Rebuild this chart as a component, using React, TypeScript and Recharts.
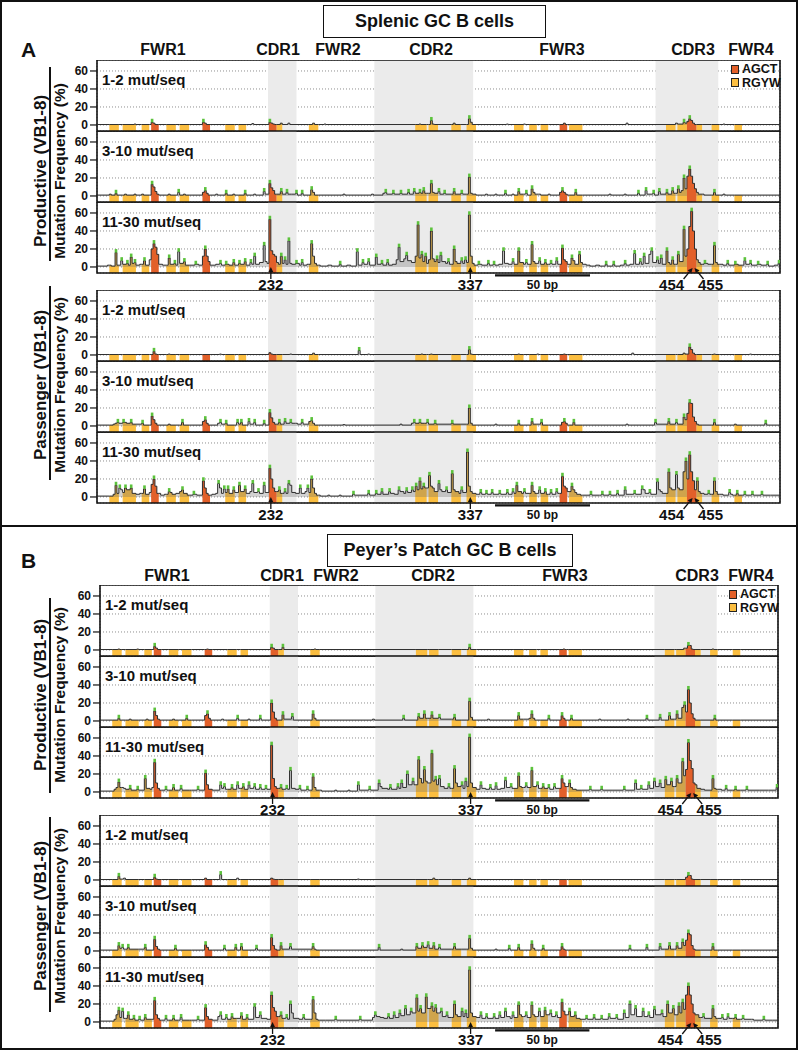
import React from 'react';
import {
  ComposedChart, Area, Line, Scatter, XAxis, YAxis, CartesianGrid,
  ReferenceArea, ReferenceLine, ReferenceDot,
} from 'recharts';

type Pt = [number, number];

const FONT = '"Liberation Sans", Arial, Helvetica, sans-serif';

// ---------- axes / categories ----------
const X_DOMAIN: [number, number] = [140.5, 500];
const Y_DOMAIN: [number, number] = [-6.7, 72.2];
const GRID_BP = [150, 200, 250, 300, 350, 400, 450, 500];
const Y_TICKS = [0, 20, 40, 60];
const CDR_RANGES: [number, number][] = [[230.5, 245.5], [286.5, 338.5], [434.5, 467.5]];
const REGION_NAMES = ['FWR1', 'CDR1', 'FWR2', 'CDR2', 'FWR3', 'CDR3', 'FWR4'];
const PANEL_NAMES = ['1-2 mut/seq', '3-10 mut/seq', '11-30 mut/seq'];
const GROUP_NAMES = ['Productive (VB1-8)', 'Passenger (VB1-8)'];
const AXIS_TITLE = 'Mutation Frequency (%)';
const LEGEND_NAMES: ('AGCT' | 'RGYW')[] = ['AGCT', 'RGYW'];
const SITE_LABELS: { bp: number; text: string; side: 'c' | 'l' | 'r' | 'bar' }[] = [
  { bp: 232, text: '232', side: 'c' },
  { bp: 337, text: '337', side: 'c' },
  { bp: 454, text: '454', side: 'l' },
  { bp: 455, text: '455', side: 'r' },
  { bp: 375, text: '50 bp', side: 'bar' },
];
const SCALE_BAR_BP: [number, number] = [350, 400];

// hotspot motifs [start bp, end bp, motif]
const MOTIFS: [number, number, 'AGCT' | 'RGYW'][] = [
  [147, 152, 'RGYW'], [154, 161, 'RGYW'], [164, 168, 'RGYW'], [169, 173, 'AGCT'],
  [177, 182, 'RGYW'], [184, 189, 'RGYW'], [196, 200, 'AGCT'], [208, 213, 'RGYW'],
  [215, 219, 'RGYW'], [231, 235, 'AGCT'], [235, 238, 'RGYW'], [252, 257, 'RGYW'],
  [308, 314, 'RGYW'], [315, 320, 'RGYW'], [327, 332, 'RGYW'], [335, 340, 'RGYW'],
  [360, 365, 'RGYW'], [368, 372, 'RGYW'], [374, 378, 'RGYW'], [384, 388, 'AGCT'],
  [389, 396, 'RGYW'], [440, 445, 'RGYW'], [446, 451, 'RGYW'], [451, 456, 'AGCT'],
  [456, 459, 'RGYW'], [464, 468, 'RGYW'], [476, 480, 'RGYW'],
];

// ---------- mutation frequency (%) step series: [bp, value] ----------
const A_PROD_LOW: Pt[] = [[141,0.5],[160,1],[161,0.5],[169,3],[170,2],[171,0.5],[196,3],[197,2],[198,0.5],[222,1.5],[223,0.5],[231,3],[232,2],[233,1],[234,0.5],[237,2],[238,0.5],[241,2],[242,0.5],[254,2],[255,0.5],[260,1],[261,0.5],[310,1],[311,0.5],[316,5],[317,1],[318,0.5],[328,2],[329,0.5],[336,7],[337,3],[338,0.5],[356,1],[357,0.5],[365,1],[366,0.5],[386,2],[387,0.5],[419,2],[420,0.5],[445,2],[446,1],[449,3],[450,2],[451,4],[452,7],[453,5],[454,2],[455,0.5],[470,1],[471,0.5],[500,0.5]];

const A_PROD_MID: Pt[] = [[141,1],[147,2],[148,1],[150,3],[151,1],[155,2],[156,1],[160,2],[161,1],[164,2],[165,1],[169,13],[170,10],[171,5],[172,2],[173,1],[178,2],[179,1],[183,4],[184,1],[186,2],[187,1],[196,4],[197,6],[198,3],[199,1],[203,2],[204,1],[208,3],[209,1],[212,2],[213,1],[218,3],[219,1],[223,2],[224,1],[228,5],[229,2],[231,14],[232,9],[233,6],[234,2],[237,5],[238,2],[240,4],[241,2],[243,2],[245,3],[246,1],[248,3],[249,1],[253,7],[254,4],[255,1],[270,2],[271,1],[285,2],[286,1],[291,3],[292,4],[293,2],[296,3],[297,2],[300,3],[301,2],[304,4],[305,2],[307,5],[308,3],[310,4],[311,3],[312,6],[313,3],[316,14],[317,4],[318,3],[320,5],[321,2],[323,3],[324,2],[328,5],[329,2],[332,3],[333,2],[336,21],[337,3],[338,2],[340,1],[345,2],[346,1],[350,2],[351,1],[355,3],[356,1],[359,2],[360,1],[362,5],[363,2],[366,3],[367,1],[369,8],[370,4],[371,2],[373,2],[374,1],[378,2],[379,1],[384,4],[385,6],[386,4],[387,2],[388,1],[392,4],[393,1],[410,2],[411,1],[418,2],[419,1],[425,3],[426,1],[429,6],[430,2],[433,3],[434,1],[436,5],[437,2],[440,4],[441,2],[443,6],[444,3],[446,8],[447,4],[448,6],[449,20],[450,8],[451,22],[452,30],[453,22],[454,14],[455,8],[456,4],[457,2],[460,1],[465,4],[466,1],[470,2],[471,1],[500,1]];

const A_PROD_HIGH: Pt[] = [[141,1],[146,2],[148,1],[150,16],[151,2],[153,7],[154,3],[156,4],[157,2],[158,11],[159,4],[160,5],[161,2],[163,3],[165,7],[166,2],[168,8],[169,20],[170,26],[171,22],[172,14],[173,3],[175,2],[178,10],[179,3],[181,4],[182,2],[183,17],[184,4],[186,6],[187,2],[190,2],[192,3],[194,2],[196,12],[197,20],[198,12],[199,6],[200,2],[203,3],[205,4],[206,2],[208,3],[210,2],[212,5],[213,2],[215,4],[216,3],[218,6],[219,2],[221,5],[222,3],[223,12],[224,3],[226,5],[228,24],[229,6],[230,4],[231,53],[232,18],[233,14],[234,12],[235,5],[236,3],[237,12],[238,4],[239,8],[240,3],[241,29],[242,4],[243,3],[245,4],[247,2],[248,5],[249,2],[251,3],[253,26],[254,12],[255,4],[256,2],[258,1],[262,2],[264,1],[268,3],[269,1],[272,2],[274,1],[277,17],[278,2],[280,5],[281,3],[283,6],[284,2],[287,11],[288,3],[290,4],[291,2],[293,5],[294,2],[296,3],[298,8],[299,22],[300,6],[302,9],[303,13],[304,7],[306,5],[308,12],[309,47],[310,10],[311,14],[312,6],[313,12],[314,4],[315,8],[316,40],[317,9],[318,6],[319,9],[320,5],[321,13],[322,6],[324,4],[325,6],[326,3],[328,20],[329,6],[330,4],[332,7],[333,4],[334,8],[335,5],[336,58],[337,12],[338,4],[339,2],[341,3],[343,2],[346,4],[347,2],[349,3],[350,2],[352,3],[354,18],[355,4],[357,3],[359,6],[360,3],[362,18],[363,5],[365,3],[366,5],[367,3],[369,25],[370,6],[371,4],[373,7],[374,3],[376,5],[377,3],[379,4],[380,3],[382,7],[383,3],[385,21],[386,8],[387,6],[388,3],[390,10],[391,7],[392,3],[394,14],[395,5],[396,3],[398,2],[400,1],[403,2],[405,1],[408,3],[409,1],[412,3],[413,1],[416,2],[418,4],[419,2],[421,3],[423,15],[424,3],[426,6],[427,3],[428,12],[429,4],[431,14],[432,18],[433,5],[435,8],[436,4],[437,10],[438,3],[440,18],[441,5],[442,3],[443,8],[444,3],[446,14],[447,6],[449,42],[450,12],[451,20],[452,45],[453,62],[454,40],[455,20],[456,8],[457,5],[458,3],[460,4],[462,3],[465,24],[466,5],[467,3],[470,2],[472,4],[473,2],[476,3],[478,2],[481,7],[482,3],[484,4],[485,2],[488,3],[490,2],[493,3],[494,1],[497,2],[499,4],[500,4]];

const A_PASS_LOW: Pt[] = [[141,0.5],[170,4],[171,1],[172,0.5],[178,1],[179,0.5],[205,1],[206,0.5],[231,2.5],[232,1],[233,0.5],[242,1],[243,0.5],[254,2],[255,0.5],[278,5],[279,0.5],[283,1],[284,0.5],[311,1],[312,0.5],[316,1],[317,0.5],[336,6],[337,1],[338,0.5],[362,1],[363,0.5],[372,1],[373,0.5],[386,1],[387,0.5],[422,2],[423,0.5],[449,2],[450,1],[452,9],[453,6],[454,2],[455,0.5],[465,1],[466,0.5],[484,1],[485,0.5],[500,0.5]];

const A_PASS_MID: Pt[] = [[141,1],[149,2],[150,3],[151,4],[152,3],[154,4],[156,3],[158,4],[159,2],[164,3],[165,1],[169,11],[170,7],[171,3],[172,1],[178,2],[179,1],[185,4],[186,1],[196,5],[197,7],[198,3],[199,1],[204,3],[205,4],[206,2],[208,3],[209,1],[214,4],[215,2],[216,4],[217,1],[220,5],[221,2],[223,4],[224,1],[228,3],[229,1],[231,15],[232,9],[233,4],[234,2],[236,4],[237,2],[239,5],[240,3],[242,4],[243,3],[245,3],[246,2],[248,4],[249,2],[252,5],[253,6],[254,3],[255,1],[270,1.5],[271,1],[300,2],[301,1],[306,3],[307,4],[308,3],[310,4],[311,3],[313,3],[314,4],[315,2],[318,3],[319,2],[327,3],[328,2],[336,20],[337,3],[338,1],[350,2],[351,1],[362,3],[363,1],[369,5],[370,2],[374,4],[375,1],[385,4],[386,5],[387,3],[388,1],[391,4],[392,1],[419,2],[420,1],[434,4],[435,2],[441,5],[442,2],[445,4],[446,2],[449,10],[450,7],[451,14],[452,26],[453,25],[454,10],[455,5],[456,2],[457,1],[465,4],[466,1],[476,2],[477,1],[492,3],[493,1],[500,1]];

const A_PASS_HIGH: Pt[] = [[141,1],[149,3],[150,13],[151,4],[152,10],[153,8],[154,5],[155,10],[156,8],[158,10],[159,4],[161,3],[163,4],[165,9],[166,3],[168,5],[169,14],[170,20],[171,12],[172,4],[174,2],[176,3],[178,6],[179,5],[180,3],[182,4],[184,6],[185,8],[186,4],[188,2],[191,3],[193,2],[196,18],[197,10],[198,4],[199,2],[201,3],[203,4],[204,15],[205,10],[206,4],[207,9],[208,5],[209,9],[210,4],[212,8],[213,5],[215,13],[216,6],[218,9],[219,4],[221,6],[222,15],[223,5],[225,6],[226,4],[228,13],[229,5],[231,32],[232,20],[233,10],[234,6],[236,8],[237,4],[239,6],[240,4],[241,15],[242,13],[243,5],[245,4],[247,10],[248,4],[250,6],[251,10],[252,5],[253,20],[254,10],[255,4],[256,2],[258,1],[262,2],[263,1],[268,2],[269,1],[275,3],[276,2],[283,4],[284,2],[287,4],[288,3],[290,6],[291,3],[294,6],[295,4],[297,3],[299,8],[300,6],[302,4],[303,7],[304,5],[306,8],[307,6],[308,12],[309,8],[310,18],[311,9],[312,12],[313,10],[315,24],[316,12],[317,10],[318,6],[320,15],[321,8],[322,6],[324,8],[325,5],[327,26],[328,8],[329,6],[331,4],[332,8],[333,5],[335,50],[336,12],[337,6],[338,4],[340,3],[342,5],[343,3],[345,4],[346,3],[348,5],[349,3],[352,4],[353,3],[356,5],[357,3],[359,6],[360,4],[361,13],[362,6],[364,4],[365,6],[366,4],[369,13],[370,6],[371,4],[373,8],[374,4],[376,6],[377,3],[379,5],[380,3],[382,6],[383,4],[385,23],[386,12],[387,10],[388,6],[390,12],[391,8],[392,5],[393,3],[395,2],[400,3],[401,2],[405,2],[406,3],[407,2],[410,3],[411,2],[414,4],[415,2],[418,8],[419,3],[421,3],[423,4],[424,3],[427,9],[428,8],[429,4],[431,5],[432,3],[435,17],[436,8],[437,6],[438,4],[441,28],[442,10],[443,8],[445,25],[446,10],[447,8],[449,28],[450,40],[451,20],[452,47],[453,28],[454,18],[455,8],[456,18],[457,6],[458,4],[460,3],[462,4],[463,3],[465,18],[466,6],[467,3],[470,2],[473,5],[474,3],[475,2],[477,4],[478,2],[481,3],[482,2],[485,3],[486,2],[490,3],[491,2],[495,2],[500,2]];

const B_PROD_LOW: Pt[] = [[141,0.5],[150,1],[151,0.5],[160,1],[161,0.5],[169,4],[170,2],[171,0.5],[197,1],[198,0.5],[231,3],[232,2],[233,0.5],[237,3],[238,0.5],[254,1],[255,0.5],[336,3],[337,0.5],[386,1],[387,0.5],[450,2],[452,5],[453,5],[454,1],[455,0.5],[465,1],[466,0.5],[500,0.5]];

const B_PROD_MID: Pt[] = [[141,1],[150,3],[151,1],[156,2],[157,1],[165,2],[166,1],[169,11],[170,6],[171,2],[172,1],[179,2],[180,1],[186,3],[187,1],[196,6],[197,8],[198,3],[199,1],[205,2],[206,1],[213,3],[214,1],[219,2],[220,1],[225,3],[226,1],[231,20],[232,10],[233,3],[234,1],[237,7],[238,2],[242,5],[243,1],[253,8],[254,3],[255,1],[285,2],[286,1],[301,3],[302,1],[309,5],[310,3],[312,8],[313,3],[316,7],[317,3],[320,4],[321,2],[328,4],[329,1],[336,22],[337,4],[338,1],[346,2],[347,1],[362,6],[363,2],[368,3],[369,8],[370,3],[371,1],[378,3],[379,1],[385,6],[386,3],[387,1],[390,3],[391,1],[405,2],[406,1],[420,2],[421,1],[430,3],[431,1],[437,4],[438,1],[442,6],[443,2],[446,8],[447,3],[449,15],[450,18],[451,10],[452,35],[453,20],[454,8],[455,3],[456,1],[466,3],[467,1],[500,1]];

const B_PROD_HIGH: Pt[] = [[141,1],[148,3],[149,5],[150,11],[151,5],[153,4],[154,3],[156,4],[157,2],[160,3],[161,2],[164,15],[165,4],[167,3],[168,5],[169,33],[170,10],[171,4],[172,2],[175,3],[176,2],[179,5],[180,2],[183,4],[184,2],[188,2],[192,3],[193,2],[196,21],[197,8],[198,3],[200,2],[204,8],[205,4],[206,6],[207,3],[210,5],[211,3],[213,8],[214,4],[216,6],[217,3],[219,8],[220,4],[222,6],[223,3],[225,5],[226,3],[228,4],[229,3],[231,52],[232,15],[233,6],[234,4],[236,5],[237,3],[239,4],[240,3],[241,24],[242,4],[244,3],[246,4],[247,2],[250,3],[251,2],[253,17],[254,5],[255,2],[258,1],[265,2],[266,1],[272,2],[273,1],[277,8],[278,2],[283,3],[284,2],[288,10],[289,6],[290,4],[293,3],[294,5],[295,3],[298,6],[299,4],[300,10],[301,5],[303,20],[304,8],[306,12],[307,8],[309,36],[310,15],[311,10],[312,25],[313,12],[314,10],[316,43],[317,12],[318,14],[319,8],[320,15],[321,6],[323,4],[325,6],[326,4],[328,26],[329,10],[330,6],[332,8],[333,4],[334,12],[335,6],[336,61],[337,10],[338,5],[340,3],[342,8],[343,4],[345,3],[347,5],[348,3],[350,7],[351,3],[353,4],[355,13],[356,5],[358,6],[359,4],[362,18],[363,6],[364,5],[366,7],[367,5],[369,24],[370,6],[372,8],[373,4],[375,6],[376,4],[378,5],[379,3],[381,6],[382,4],[385,15],[386,10],[387,6],[389,10],[390,5],[391,3],[393,2],[400,3],[401,2],[406,3],[407,2],[412,2],[418,3],[419,2],[424,10],[425,3],[427,4],[428,3],[431,8],[432,4],[434,12],[435,6],[437,10],[438,5],[440,14],[441,8],[443,12],[444,6],[446,15],[447,10],[449,34],[450,18],[451,25],[452,55],[453,35],[454,26],[455,10],[456,8],[457,4],[459,3],[461,2],[465,15],[466,4],[467,3],[470,2],[472,4],[473,2],[477,3],[478,2],[483,3],[484,2],[490,2],[495,2],[499,5],[500,5]];

const B_PASS_LOW: Pt[] = [[141,0.5],[150,4],[151,1],[153,2],[154,0.5],[169,3],[170,1],[171,0.5],[196,2],[197,0.5],[204,6],[205,0.5],[213,2],[214,0.5],[231,2],[232,1],[233,0.5],[277,1],[278,0.5],[317,2],[318,0.5],[336,2],[337,0.5],[451,3],[452,5],[453,5],[454,1],[455,0.5],[500,0.5]];

const B_PASS_MID: Pt[] = [[141,1],[150,6],[151,3],[152,4],[153,2],[155,4],[156,2],[164,4],[165,1],[169,13],[170,5],[171,2],[172,1],[180,3],[181,1],[196,7],[197,4],[198,1],[206,3],[207,1],[212,4],[213,1],[215,5],[216,1],[223,3],[224,1],[231,15],[232,6],[233,2],[234,1],[236,6],[237,2],[241,5],[242,2],[253,5],[254,2],[255,1],[288,4],[289,1],[300,2],[301,1],[308,5],[309,3],[311,6],[312,4],[314,7],[315,3],[317,6],[318,2],[320,4],[321,2],[328,5],[329,2],[336,14],[337,3],[338,1],[350,2],[351,1],[357,3],[358,1],[362,4],[363,1],[369,8],[370,3],[371,1],[375,3],[376,1],[385,5],[386,2],[387,1],[421,3],[422,1],[430,4],[431,1],[437,5],[438,2],[442,6],[443,2],[446,6],[447,3],[449,10],[450,6],[451,12],[452,20],[453,18],[454,6],[455,2],[456,1],[465,5],[466,1],[500,1]];

const B_PASS_HIGH: Pt[] = [[141,1],[148,3],[149,8],[150,13],[151,5],[152,12],[153,4],[155,8],[156,3],[158,4],[159,2],[161,3],[162,2],[164,5],[165,3],[169,24],[170,8],[171,4],[172,2],[175,4],[176,2],[179,4],[180,2],[183,5],[184,2],[188,2],[192,3],[193,2],[196,16],[197,6],[198,3],[200,2],[203,6],[204,8],[205,3],[207,5],[208,3],[210,6],[211,4],[213,4],[215,7],[216,3],[218,5],[219,3],[222,17],[223,5],[225,8],[226,4],[228,4],[229,3],[231,30],[232,16],[233,12],[234,6],[236,8],[237,4],[239,5],[240,3],[241,20],[242,10],[243,4],[245,4],[246,3],[248,5],[249,3],[253,25],[254,10],[255,3],[256,2],[260,2],[265,3],[266,2],[272,2],[278,3],[279,2],[285,5],[286,8],[287,6],[289,5],[291,4],[293,6],[294,4],[296,8],[297,5],[299,10],[300,7],[302,15],[303,8],[305,12],[306,10],[308,27],[309,12],[310,15],[311,10],[313,28],[314,15],[316,18],[317,12],[318,16],[319,10],[321,12],[322,6],[324,8],[325,5],[328,20],[329,8],[330,6],[332,12],[333,6],[334,10],[335,5],[336,58],[337,10],[338,6],[340,5],[342,8],[343,4],[345,6],[346,4],[349,6],[350,4],[352,8],[353,5],[355,12],[356,6],[358,4],[359,8],[360,5],[362,19],[363,8],[364,6],[366,8],[367,5],[369,19],[370,8],[371,6],[373,12],[374,6],[376,13],[377,8],[379,10],[380,6],[382,8],[383,5],[385,22],[386,12],[387,8],[389,12],[390,6],[392,8],[393,4],[395,3],[398,4],[399,3],[402,5],[403,3],[406,4],[407,3],[410,6],[411,4],[414,5],[415,3],[418,10],[419,5],[421,20],[422,8],[424,15],[425,6],[428,12],[429,6],[431,8],[432,5],[434,14],[435,8],[438,10],[439,6],[441,20],[442,10],[444,15],[445,8],[447,18],[448,10],[449,22],[450,14],[451,30],[452,40],[453,30],[454,20],[455,10],[456,8],[458,5],[460,6],[461,4],[465,15],[466,6],[467,4],[470,5],[471,3],[473,6],[474,4],[477,5],[478,3],[481,4],[482,3],[486,3],[487,2],[492,3],[493,2],[497,2],[500,2]];

// ---------- styling ----------
const COLORS = {
  AGCT: '#E2602A',
  RGYW: '#FBBE40',
  cdr: '#ebebeb',
  grid: '#8f8f8f',
  line: '#2e2e2e',
  fill: '#6a6a6a',
  tip: '#5cc23c',
  ink: '#111111',
};
const PANEL_H = 71;
const XAXIS_H = 5;
const LAST_EXTRA = 28;
const GAP = 0.01;

// ---------- helpers ----------
function stepValue(pts: Pt[], x: number, inclusive: boolean) {
  let v = pts[0][1];
  for (const [b, y] of pts) {
    if (inclusive ? b <= x : b < x) v = y;
    else break;
  }
  return v;
}

function buildRows(pts: Pt[]) {
  const xs = new Set<number>([X_DOMAIN[0], X_DOMAIN[1]]);
  pts.forEach(([b]) => xs.add(b));
  MOTIFS.forEach(([s, e]) => { xs.add(s); xs.add(e); xs.add(e + GAP); });
  return [...xs]
    .filter((x) => x >= X_DOMAIN[0] && x <= X_DOMAIN[1])
    .sort((a, b) => a - b)
    .map((x) => {
      const v = stepValue(pts, x, true);
      const row: Record<string, number | null> = { bp: x, v };
      LEGEND_NAMES.forEach((t) => {
        const inside = MOTIFS.some(([s, e, k]) => k === t && x >= s && x < e);
        const closing = MOTIFS.some(([, e, k]) => k === t && x === e);
        row[t] = inside ? v : closing ? stepValue(pts, x, false) : null;
      });
      return row;
    });
}

function buildTips(pts: Pt[]) {
  const out: { bp: number; v: number }[] = [];
  pts.forEach(([b, v], i) => {
    const prev = i > 0 ? pts[i - 1][1] : 0;
    const next = i < pts.length - 1 ? pts[i + 1][1] : 0;
    if (v >= 3 && v > prev && v >= next && b + 0.5 <= X_DOMAIN[1]) out.push({ bp: b + 0.5, v });
  });
  return out;
}

const TipShape = (p: any) => (
  <rect x={p.cx - 1.3} y={p.cy - 3.5} width={2.6} height={3.5} fill={COLORS.tip} />
);

function arrow(x1: number, y1: number, x2: number, y2: number) {
  const dx = x2 - x1, dy = y2 - y1;
  const L = Math.hypot(dx, dy);
  const ux = dx / L, uy = dy / L;
  const bx = x2 - ux * 5, by = y2 - uy * 5;
  const px = -uy * 2.4, py = ux * 2.4;
  return (
    <g>
      <line x1={x1} y1={y1} x2={bx} y2={by} stroke={COLORS.ink} strokeWidth={1.3} />
      <path d={`M${x2},${y2} L${bx + px},${by + py} L${bx - px},${by - py} Z`} fill={COLORS.ink} />
    </g>
  );
}

function siteShape(text: string, side: string) {
  return (p: any) => {
    const { cx, cy } = p;
    const label = (x: number, y: number, size: number) => (
      <text x={x} y={y} textAnchor="middle" fontSize={size} fontWeight={700} fontFamily={FONT} fill={COLORS.ink}>{text}</text>
    );
    if (side === 'bar') return <g>{label(cx, cy + 16, 12)}</g>;
    if (side === 'c') return <g>{arrow(cx, cy + 12, cx, cy)}{label(cx, cy + 23.5, 15)}</g>;
    const dir = side === 'l' ? -1 : 1;
    return (
      <g>
        {arrow(cx + dir * 9, cy + 12, cx, cy + 1)}
        {label(cx + dir * (side === 'l' ? 21 : 16), cy + 23.5, 15)}
      </g>
    );
  };
}

// ---------- panel ----------
function Panel(props: {
  pts: Pt[]; top: number; plotLeft: number; plotRight: number;
  name: string; legend: boolean; last: boolean;
}) {
  const { pts, top, plotLeft, plotRight, name, legend, last } = props;
  const rows = buildRows(pts);
  const tips = buildTips(pts);
  const extra = last ? LAST_EXTRA : 0;
  const height = PANEL_H + XAXIS_H + extra;
  return (
    <div style={{ position: 'absolute', left: 0, top, width: 798, height }}>
      <ComposedChart
        width={798}
        height={height}
        data={rows}
        margin={{ top: 0, right: 798 - plotRight, left: 0, bottom: extra }}
      >
        <XAxis
          type="number" dataKey="bp" domain={X_DOMAIN} ticks={GRID_BP} allowDataOverflow
          tick={false} tickSize={4} height={XAXIS_H} axisLine={false}
          tickLine={{ stroke: COLORS.ink, strokeWidth: 1.2 }}
        />
        <YAxis
          type="number" domain={Y_DOMAIN} ticks={Y_TICKS} allowDataOverflow interval={0}
          width={plotLeft} axisLine={false} tickSize={7}
          tickLine={{ stroke: COLORS.ink, strokeWidth: 1.2 }}
          tick={{ fill: COLORS.ink, fontSize: 12, fontWeight: 700, fontFamily: FONT }}
        />
        {CDR_RANGES.map(([a, b], i) => (
          <ReferenceArea key={'cdr' + i} x1={a} x2={b} y1={Y_DOMAIN[0]} y2={Y_DOMAIN[1]} fill={COLORS.cdr} fillOpacity={1} stroke="none" />
        ))}
        <CartesianGrid strokeDasharray="1 2" stroke={COLORS.grid} />
        <Area type="stepAfter" dataKey="RGYW" baseValue={Y_DOMAIN[0]} fill={COLORS.RGYW} fillOpacity={1} stroke="none" isAnimationActive={false} dot={false} activeDot={false} />
        <Area type="stepAfter" dataKey="v" baseValue={0} fill={COLORS.fill} fillOpacity={0.3} stroke="none" isAnimationActive={false} dot={false} activeDot={false} />
        <Area type="stepAfter" dataKey="AGCT" baseValue={Y_DOMAIN[0]} fill={COLORS.AGCT} fillOpacity={1} stroke="none" isAnimationActive={false} dot={false} activeDot={false} />
        <Line type="stepAfter" dataKey="v" stroke={COLORS.line} strokeWidth={1} dot={false} activeDot={false} isAnimationActive={false} />
        <Scatter data={tips} dataKey="v" shape={TipShape} isAnimationActive={false} />
        <ReferenceArea x1={X_DOMAIN[0]} x2={X_DOMAIN[1]} y1={Y_DOMAIN[0]} y2={Y_DOMAIN[1]} fill="none" stroke={COLORS.ink} strokeWidth={1.6} />
        {last && SITE_LABELS.map((s) => (
          <ReferenceDot key={s.text} x={s.bp} y={s.side === 'bar' ? Y_DOMAIN[0] : 0} r={0} ifOverflow="visible" shape={siteShape(s.text, s.side)} />
        ))}
        {last && (
          <ReferenceLine
            segment={[{ x: SCALE_BAR_BP[0], y: Y_DOMAIN[0] - 2.6 }, { x: SCALE_BAR_BP[1], y: Y_DOMAIN[0] - 2.6 }]}
            stroke={COLORS.ink} strokeWidth={2.4} ifOverflow="visible"
          />
        )}
      </ComposedChart>
      <div style={{ position: 'absolute', left: plotLeft + 5, top: 11, fontSize: 15, lineHeight: '18px', fontWeight: 700, color: COLORS.ink, whiteSpace: 'nowrap' }}>{name}</div>
      {legend && LEGEND_NAMES.map((t, i) => (
        <div key={t} style={{ position: 'absolute', left: plotRight - 49, top: 3 + i * 13.5, display: 'flex', alignItems: 'center', fontSize: 12.5, fontWeight: 700, color: COLORS.ink, lineHeight: '12px' }}>
          <span style={{ display: 'inline-block', width: 6, height: 7, background: COLORS[t], border: '1px solid #222', marginRight: 3 }} />
          {t}
        </div>
      ))}
    </div>
  );
}

// ---------- section ----------
type SectionCfg = {
  letter: string; title: string;
  titleBox: { left: number; top: number; w: number; h: number };
  letterTop: number; regionY: number; regionX: number[];
  plotLeft: number; plotRight: number;
  groups: { tops: number[]; series: Pt[][]; labelY: number; lineTop: number; lineH: number }[];
};

const SECTIONS: SectionCfg[] = [
  {
    letter: 'A', title: 'Splenic GC B cells',
    titleBox: { left: 323, top: 5, w: 223, h: 33 },
    letterTop: 38, regionY: 50, regionX: [163, 278, 338, 431, 562, 693, 751],
    plotLeft: 97, plotRight: 780,
    groups: [
      { tops: [60, 131, 202], series: [A_PROD_LOW, A_PROD_MID, A_PROD_HIGH], labelY: 171, lineTop: 67, lineH: 194 },
      { tops: [290, 361, 432], series: [A_PASS_LOW, A_PASS_MID, A_PASS_HIGH], labelY: 385, lineTop: 286, lineH: 194 },
    ],
  },
  {
    letter: 'B', title: 'Peyer’s Patch GC B cells',
    titleBox: { left: 327, top: 534, w: 246, h: 33 },
    letterTop: 549, regionY: 576, regionX: [167, 282, 336, 433, 565, 697, 751],
    plotLeft: 100, plotRight: 778,
    groups: [
      { tops: [585, 656, 727], series: [B_PROD_LOW, B_PROD_MID, B_PROD_HIGH], labelY: 695, lineTop: 598, lineH: 195 },
      { tops: [815, 886, 957], series: [B_PASS_LOW, B_PASS_MID, B_PASS_HIGH], labelY: 916, lineTop: 817, lineH: 195 },
    ],
  },
];

function Rotated({ text, x, y, size }: { text: string; x: number; y: number; size: number }) {
  return (
    <div style={{
      position: 'absolute', left: x, top: y, transform: 'translate(-50%, -50%) rotate(-90deg)',
      fontSize: size, fontWeight: 700, whiteSpace: 'nowrap', color: COLORS.ink, lineHeight: 1,
    }}>{text}</div>
  );
}

function Section({ cfg }: { cfg: SectionCfg }) {
  return (
    <>
      <div style={{
        position: 'absolute', left: cfg.titleBox.left, top: cfg.titleBox.top, width: cfg.titleBox.w, height: cfg.titleBox.h,
        boxSizing: 'border-box', border: '1.6px solid #111', display: 'flex', alignItems: 'center', justifyContent: 'center',
        fontSize: 18, fontWeight: 700, color: COLORS.ink,
      }}>{cfg.title}</div>
      <div style={{ position: 'absolute', left: 21, top: cfg.letterTop, fontSize: 21, fontWeight: 700, lineHeight: '24px', color: COLORS.ink }}>{cfg.letter}</div>
      {REGION_NAMES.map((r, i) => (
        <div key={r} style={{
          position: 'absolute', left: cfg.regionX[i], top: cfg.regionY, transform: 'translate(-50%, -50%)',
          fontSize: 16, fontWeight: 700, lineHeight: 1, color: COLORS.ink, whiteSpace: 'nowrap',
        }}>{r}</div>
      ))}
      {cfg.groups.map((g, gi) => (
        <React.Fragment key={gi}>
          <Rotated text={GROUP_NAMES[gi]} x={39.5} y={g.labelY} size={17} />
          <Rotated text={AXIS_TITLE} x={60} y={g.labelY} size={15.5} />
          <div style={{ position: 'absolute', left: 49, top: g.lineTop, width: 1.6, height: g.lineH, background: COLORS.ink }} />
          {g.series.map((pts, pi) => (
            <Panel
              key={pi}
              pts={pts}
              top={g.tops[pi]}
              plotLeft={cfg.plotLeft}
              plotRight={cfg.plotRight}
              name={PANEL_NAMES[pi]}
              legend={gi === 0 && pi === 0}
              last={pi === 2}
            />
          ))}
        </React.Fragment>
      ))}
    </>
  );
}

export default function App() {
  return (
    <div style={{
      position: 'absolute', left: 0, top: 0, width: 798, height: 1050, background: '#fff',
      fontFamily: FONT, overflow: 'hidden',
    }}>
      <div style={{ position: 'absolute', left: 0, top: 0, width: 798, height: 1050, boxSizing: 'border-box', border: '2px solid #111' }} />
      <div style={{ position: 'absolute', left: 0, top: 525, width: 798, height: 2, background: '#111' }} />
      {SECTIONS.map((s) => <Section key={s.letter} cfg={s} />)}
    </div>
  );
}
